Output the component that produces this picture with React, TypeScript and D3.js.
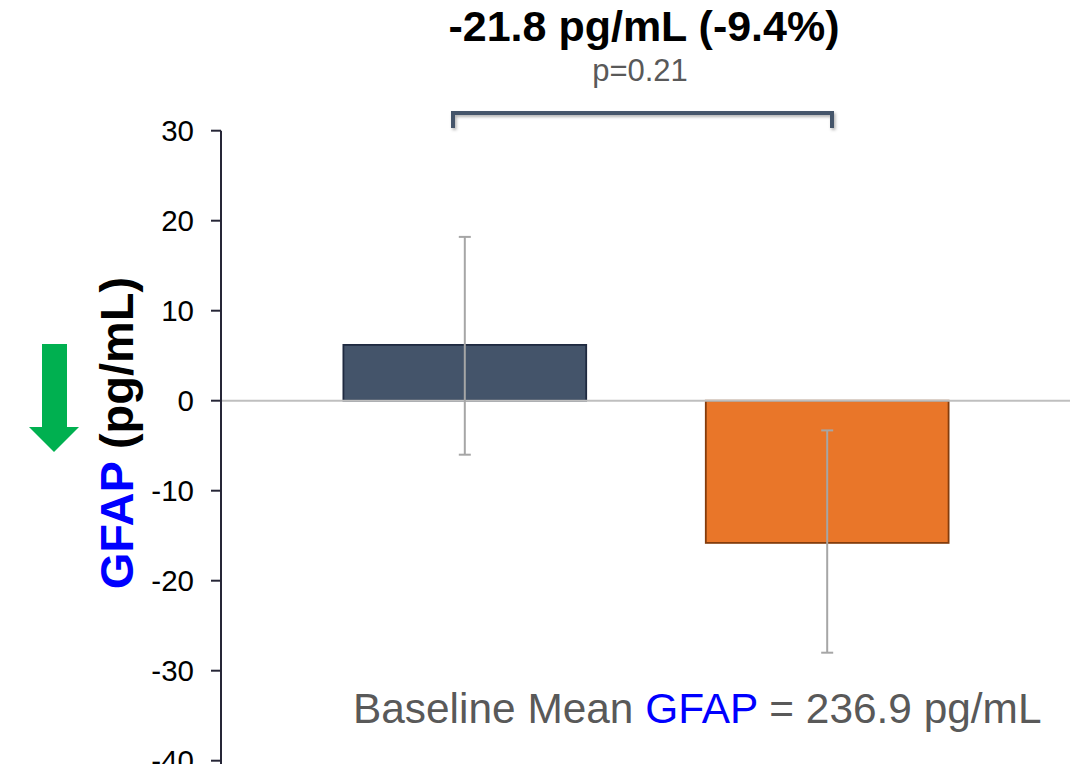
import React from "react";
import * as d3 from "d3";

// Change from baseline in GFAP (pg/mL) per group
const groups = ["Placebo", "Treatment"];
const means = [6.2, -15.8];
const errLow = [-6.0, -28.0];
const errHigh = [18.2, -3.3];
const barFills = ["#44546A", "#E97629"];
const barStrokes = ["#1F2A40", "#843C0C"];
const yTicks = [30, 20, 10, 0, -10, -20, -30, -40];

const W = 1077;
const H = 764;
const FONT = "Arial, 'Liberation Sans', Helvetica, sans-serif";

export default function App() {
  const y = d3.scaleLinear().domain([-40, 30]).range([760.7, 130.7]);
  const x = d3
    .scaleBand<string>()
    .domain(groups)
    .range([222, 1070])
    .paddingInner(0.33)
    .paddingOuter(0.335);
  const axisX = 221;
  const bw = x.bandwidth();
  const cx = (g: string) => (x(g) as number) + bw / 2;

  const bracketY = 113;
  const bracketL = 453;
  const bracketR = 832;

  return (
    <svg
      width={W}
      height={H}
      style={{ position: "absolute", left: 0, top: 0, background: "#fff" }}
      fontFamily={FONT}
    >
      <defs>
        <filter id="bshadow" x="-5%" y="-50%" width="110%" height="200%">
          <feDropShadow dx="1.5" dy="2" stdDeviation="1.5" floodColor="#000" floodOpacity="0.3" />
        </filter>
      </defs>

      {/* headline difference and p-value */}
      <text x={644} y={41} textAnchor="middle" fontSize={43} fontWeight="bold" fill="#000">
        -21.8 pg/mL (-9.4%)
      </text>
      <text x={640} y={81} textAnchor="middle" fontSize={31} fill="#595959">
        p=0.21
      </text>

      {/* comparison bracket */}
      <path
        d={`M${bracketL},${bracketY + 15}V${bracketY}H${bracketR}V${bracketY + 15}`}
        fill="none"
        stroke="#44546A"
        strokeWidth={4}
        filter="url(#bshadow)"
      />

      {/* bars */}
      {groups.map((g, i) => {
        const v = means[i];
        const top = y(Math.max(0, v));
        const bot = y(Math.min(0, v));
        return (
          <rect
            key={g}
            x={x(g)}
            y={top}
            width={bw}
            height={bot - top}
            fill={barFills[i]}
            stroke={barStrokes[i]}
            strokeWidth={1.8}
          />
        );
      })}

      {/* zero line */}
      <line x1={axisX} x2={1070} y1={y(0)} y2={y(0)} stroke="#BFBFBF" strokeWidth={2} />

      {/* error bars */}
      {groups.map((g, i) => {
        const c = cx(g);
        return (
          <g key={g} stroke="#A6A6A6" strokeWidth={2}>
            <line x1={c} x2={c} y1={y(errHigh[i])} y2={y(errLow[i])} />
            <line x1={c - 6} x2={c + 6} y1={y(errHigh[i])} y2={y(errHigh[i])} />
            <line x1={c - 6} x2={c + 6} y1={y(errLow[i])} y2={y(errLow[i])} />
          </g>
        );
      })}

      {/* y axis */}
      <line x1={axisX} x2={axisX} y1={y(30)} y2={H} stroke="#262637" strokeWidth={2} />
      {yTicks.map((t) => (
        <g key={t}>
          <line x1={axisX - 10} x2={axisX} y1={y(t)} y2={y(t)} stroke="#262637" strokeWidth={2} />
          <text
            x={194}
            y={y(t)}
            dy="0.355em"
            textAnchor="end"
            fontSize={29.5}
            fill="#000"
          >
            {t}
          </text>
        </g>
      ))}

      {/* y axis title */}
      <text
        transform={`translate(133,433) rotate(-90)`}
        textAnchor="middle"
        fontSize={47}
        fontWeight="bold"
      >
        <tspan fill="#0000FF">GFAP</tspan>
        <tspan fill="#000"> (pg/mL)</tspan>
      </text>

      {/* downward arrow indicating improvement */}
      <path
        d="M42,344H67V427H79L54,452L29,427H42Z"
        fill="#00B050"
      />

      {/* baseline note */}
      <text x={353} y={723} fontSize={42.4} fill="#595959">
        Baseline Mean <tspan fill="#0000FF">GFAP</tspan> = 236.9 pg/mL
      </text>
    </svg>
  );
}
